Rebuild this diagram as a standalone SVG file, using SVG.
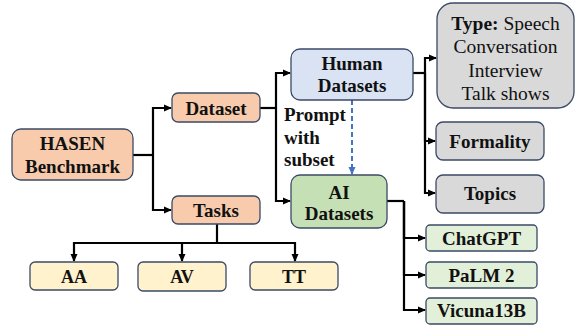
<svg xmlns="http://www.w3.org/2000/svg" width="575" height="326" viewBox="0 0 575 326">
<style>
text{font-family:"Liberation Serif","Times New Roman",serif;font-weight:700;font-size:19px;fill:#111;text-anchor:middle}
.box{stroke:#3B4A66;stroke-width:1.3}
.peach{fill:#F8CBAD}.blue{fill:#DAE3F3}.green{fill:#C5E0B4}.gray{fill:#D9D9D9}.lgreen{fill:#E2F0D9}.yellow{fill:#FFF2CC}
.c{fill:none;stroke:#000;stroke-width:2.2;marker-end:url(#ah)}
.l{fill:none;stroke:#000;stroke-width:2.2}
.reg{font-weight:400}
.st{text-anchor:start}
</style>
<defs>
<marker id="ah" markerWidth="8" markerHeight="8" refX="7" refY="4" orient="auto" markerUnits="userSpaceOnUse"><path d="M0,0.5 L8,4 L0,7.5 Z" fill="#000"/></marker>
<marker id="bh" markerWidth="8" markerHeight="8" refX="7" refY="4" orient="auto" markerUnits="userSpaceOnUse"><path d="M0,0.5 L8,4 L0,7.5 Z" fill="#4472C4"/></marker>
</defs>
<g id="connectors">
<path class="l" d="M133,155 H153"/>
<path class="c" d="M153,155 V108 H171"/>
<path class="c" d="M153,155 V210 H171"/>
<path class="l" d="M260,108 H276"/>
<path class="c" d="M276,108 V73 H290"/>
<path class="c" d="M276,108 V201 H290"/>
<path d="M352,100 V174" fill="none" stroke="#4472C4" stroke-width="2" stroke-dasharray="5,3" marker-end="url(#bh)"/>
<path class="l" d="M413,73 H425"/>
<path class="c" d="M425,73 V58 H436"/>
<path class="c" d="M425,73 V141 H435"/>
<path class="c" d="M425,73 V193 H435"/>
<path class="l" d="M387,201 H404"/>
<path class="c" d="M404,201 V238 H425"/>
<path class="c" d="M404,201 V275 H425"/>
<path class="c" d="M404,201 V310 H425"/>
<path class="l" d="M217,224 V243"/>
<path class="c" d="M217,243 H74 V261"/>
<path class="c" d="M217,243 H182 V261"/>
<path class="c" d="M217,243 H295 V261"/>
</g>
<g id="hasen"><rect class="box peach" x="12" y="129" width="121" height="51" rx="9"/><text x="72.5" y="150">HASEN</text><text x="72.5" y="173">Benchmark</text></g>
<g id="dataset"><rect class="box peach" x="172" y="93" width="88" height="29" rx="6"/><text x="216" y="114.5">Dataset</text></g>
<g id="tasks"><rect class="box peach" x="172" y="196" width="88" height="28" rx="6"/><text x="216" y="216.5">Tasks</text></g>
<g id="human"><rect class="box blue" x="291" y="49" width="122" height="51" rx="9"/><text x="352" y="70">Human</text><text x="352" y="92">Datasets</text></g>
<g id="prompt-label"><text class="st" x="284" y="121">Prompt</text><text class="st" x="284" y="144">with</text><text class="st" x="284" y="166">subset</text></g>
<g id="ai"><rect class="box green" x="291" y="175" width="96" height="53" rx="9"/><text x="339" y="198.5">AI</text><text x="339" y="220">Datasets</text></g>
<g id="type"><rect class="box gray" x="437" y="3" width="137" height="105" rx="16"/><text x="505.5" y="29.5" style="font-size:19.5px"><tspan>Type:</tspan><tspan class="reg"> Speech</tspan></text><text class="reg" x="505.5" y="53" style="font-size:19.5px">Conversation</text><text class="reg" x="505.5" y="76.5" style="font-size:19.5px">Interview</text><text class="reg" x="505.5" y="100" style="font-size:19.5px">Talk shows</text></g>
<g id="formality"><rect class="box gray" x="436" y="122" width="108" height="38" rx="7"/><text x="490" y="147.5">Formality</text></g>
<g id="topics"><rect class="box gray" x="436" y="175" width="108" height="38" rx="7"/><text x="490" y="200">Topics</text></g>
<g id="chatgpt"><rect class="box lgreen" x="426" y="225" width="111" height="26" rx="4"/><text x="481.5" y="244.5">ChatGPT</text></g>
<g id="palm"><rect class="box lgreen" x="426" y="262" width="111" height="26" rx="4"/><text x="481.5" y="281.5">PaLM 2</text></g>
<g id="vicuna"><rect class="box lgreen" x="426" y="298" width="111" height="26" rx="4"/><text x="481.5" y="317">Vicuna13B</text></g>
<g id="aa"><rect class="box yellow" x="30" y="262" width="88" height="28" rx="5"/><text x="74" y="283" style="font-size:18px">AA</text></g>
<g id="av"><rect class="box yellow" x="138" y="262" width="88" height="29" rx="5"/><text x="182" y="283" style="font-size:18px">AV</text></g>
<g id="tt"><rect class="box yellow" x="250" y="262" width="88" height="28" rx="5"/><text x="294" y="283" style="font-size:18px">TT</text></g>
</svg>
